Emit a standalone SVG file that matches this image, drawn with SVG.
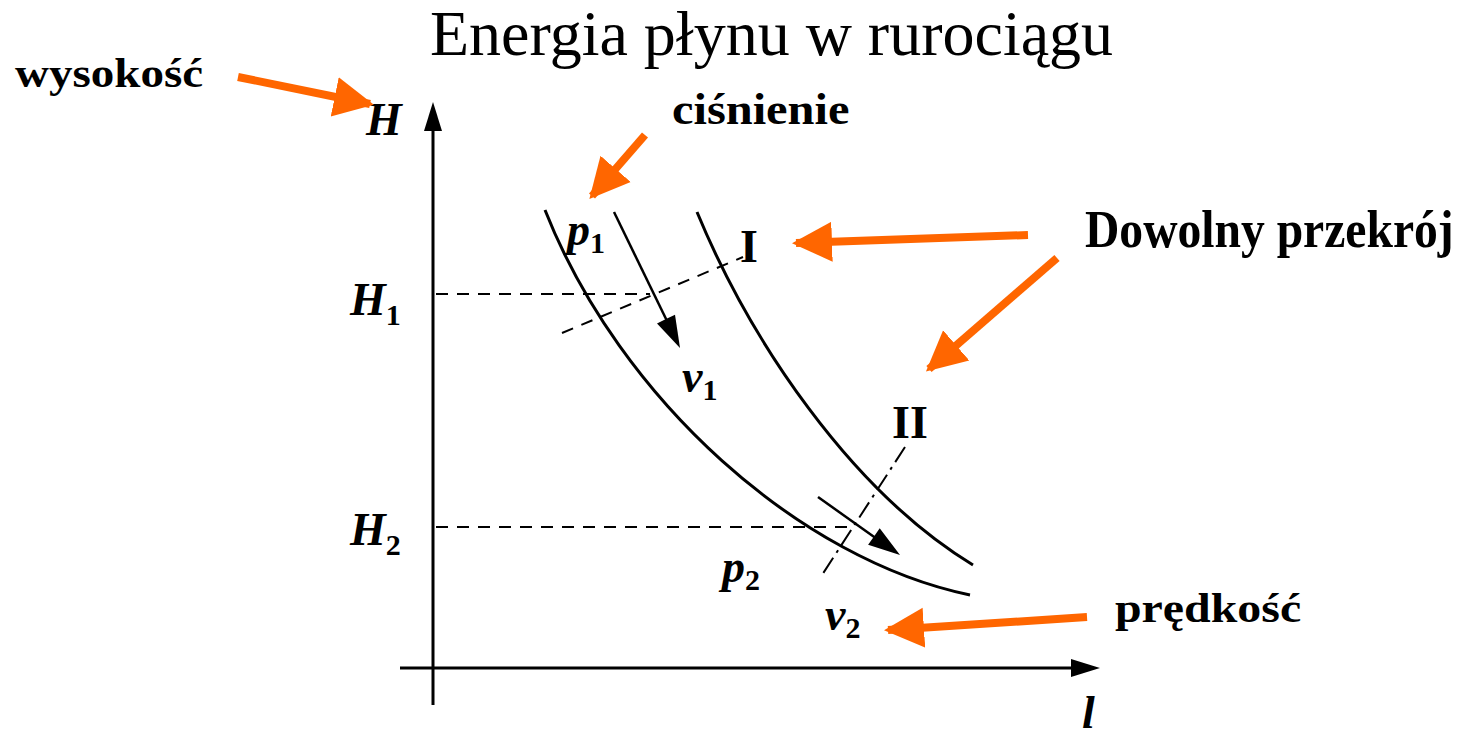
<svg xmlns="http://www.w3.org/2000/svg" width="1460" height="736" viewBox="0 0 1460 736">
<style>
.title{font-family:"Liberation Serif",serif;font-size:64px;fill:#000}
.lbl{font-family:"Liberation Serif",serif;font-weight:bold;fill:#000}
.math{font-family:"Liberation Serif",serif;font-style:italic;font-weight:bold;font-size:46px;fill:#000}
.sub{font-family:"Liberation Serif",serif;font-style:normal;font-weight:bold;font-size:30px;fill:#000}
.rom{font-family:"Liberation Serif",serif;font-weight:bold;font-size:46px;fill:#000}
.axis{stroke:#000;stroke-width:3;fill:none}
.curve{stroke:#000;stroke-width:3;fill:none}
.dash{stroke:#000;stroke-width:2;fill:none;stroke-dasharray:12 9}
.dashdot{stroke:#000;stroke-width:2;fill:none;stroke-dasharray:18 6 3 6}
.flow{stroke:#000;stroke-width:2.5;fill:none}
.head{fill:#000;stroke:none}
.orange{stroke:#FF6600;stroke-width:8;fill:none}
</style>
<defs>
<marker id="oh" viewBox="0 0 10 10" refX="9" refY="5" markerWidth="5" markerHeight="5.5" markerUnits="strokeWidth" orient="auto"><path d="M0,0 L10,5 L0,10 z" fill="#FF6600"/></marker>
</defs>
<text class="title" transform="translate(430,55) scale(1.0,1)">Energia płynu w rurociągu</text>
<g id="axes">
<line class="axis" x1="433" y1="705" x2="433" y2="130"/>
<path d="M433,102 L424,131 L442,131 z" fill="#000"/>
<line class="axis" x1="400" y1="668" x2="1072" y2="668"/>
<path d="M1100,668 L1071,659 L1071,677 z" fill="#000"/>
<text class="math" x="366" y="135">H</text>
<text class="math" x="350" y="315">H<tspan class="sub" dy="10">1</tspan></text>
<text class="math" x="350" y="545">H<tspan class="sub" dy="10">2</tspan></text>
<text class="math" x="1082" y="728">l</text>
</g>
<g id="guides">
<line class="dash" x1="436" y1="294" x2="650" y2="294"/>
<line class="dash" x1="436" y1="527" x2="855" y2="527"/>
<line class="dash" x1="562" y1="333" x2="743" y2="257"/>
<line class="dashdot" x1="905" y1="447" x2="822" y2="575"/>
</g>
<g id="pipe">
<path class="curve" d="M545,210 C620,400 800,560 970,595"/>
<path class="curve" d="M697,212 C750,340 850,490 973,565"/>
</g>
<g id="flow">
<line class="flow" x1="614" y1="212" x2="668" y2="323"/>
<path class="head" d="M680,348 L675,314.8 L666,319 L657,323.6 z"/>
<line class="flow" x1="818" y1="497" x2="877" y2="539"/>
<path class="head" d="M900,555 L879.7,528.3 L874,536.5 L868.1,544.7 z"/>
</g>
<g id="symbols">
<text class="math" x="567" y="245">p<tspan class="sub" dy="8">1</tspan></text>
<text class="math" x="682" y="392">ν<tspan class="sub" dy="8">1</tspan></text>
<text class="math" x="722" y="582">p<tspan class="sub" dy="8">2</tspan></text>
<text class="math" x="825" y="630">ν<tspan class="sub" dy="8">2</tspan></text>
<text class="rom" x="740" y="262">I</text>
<text class="rom" x="892" y="438">II</text>
</g>
<g id="labels">
<text class="lbl" font-size="42" transform="translate(15,87) scale(1.12,1)">wysokość</text>
<text class="lbl" font-size="44" transform="translate(672,124) scale(1.1,1)">ciśnienie</text>
<text class="lbl" font-size="52" transform="translate(1085,247) scale(0.915,1)">Dowolny przekrój</text>
<text class="lbl" font-size="42" transform="translate(1115,622) scale(1.14,1)">prędkość</text>
</g>
<g id="connectors">
<line class="orange" x1="238" y1="77" x2="370" y2="104" marker-end="url(#oh)"/>
<line class="orange" x1="645" y1="135" x2="592" y2="196" marker-end="url(#oh)"/>
<line class="orange" x1="1028" y1="235" x2="796" y2="243" marker-end="url(#oh)"/>
<line class="orange" x1="1057" y1="258" x2="929" y2="369" marker-end="url(#oh)"/>
<line class="orange" x1="1087" y1="617" x2="888" y2="630" marker-end="url(#oh)"/>
</g>
</svg>
